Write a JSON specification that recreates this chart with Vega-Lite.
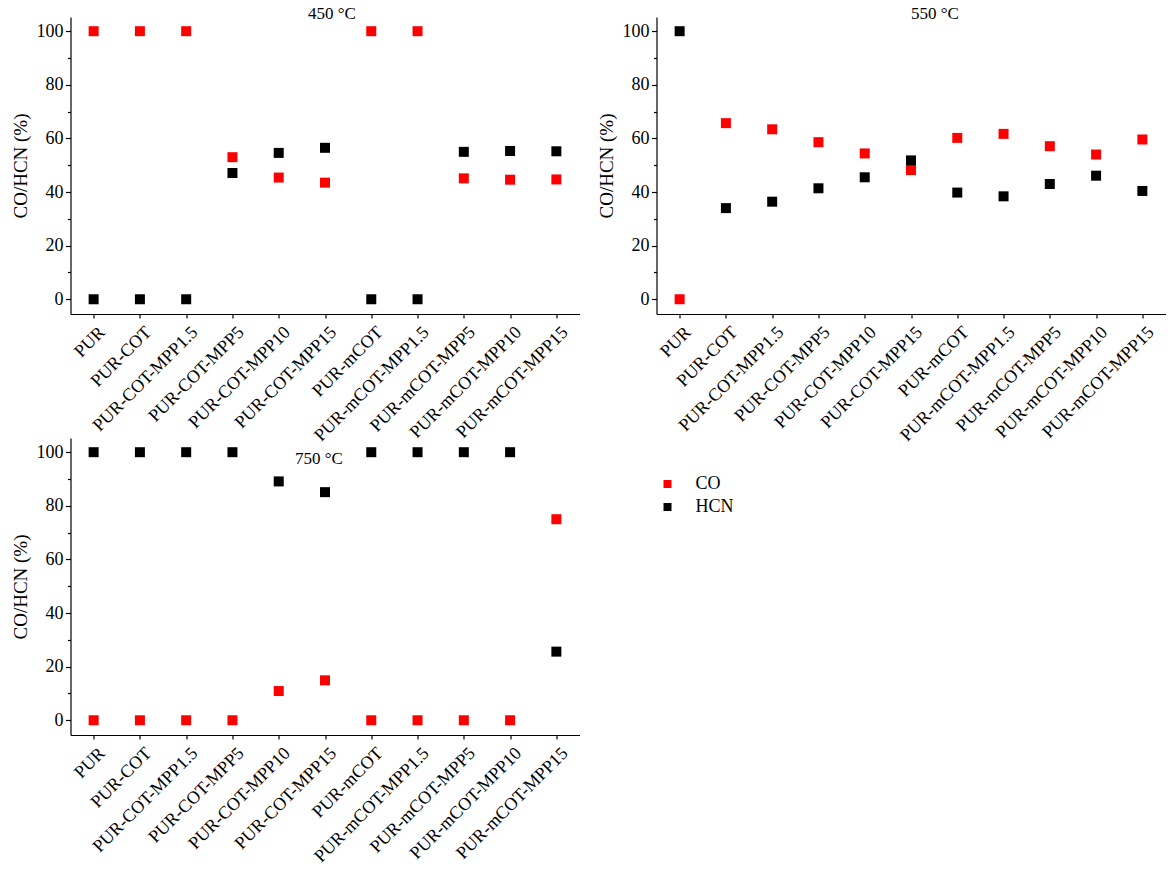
{
  "$schema": "https://vega.github.io/schema/vega-lite/v6.json",
  "background": "#ffffff",
  "padding": {"left": 10.5, "top": 5, "right": 5, "bottom": 5},
  "config": {
    "font": "Liberation Serif",
    "view": {"stroke": null},
    "axis": {
      "grid": false,
      "domainColor": "#000000",
      "domainWidth": 1.2,
      "tickColor": "#000000",
      "tickWidth": 1.2,
      "labelColor": "#000000",
      "labelFont": "Liberation Serif",
      "titleFont": "Liberation Serif",
      "titleFontSize": 19,
      "titleFontWeight": "normal",
      "titleColor": "#000000"
    },
    "axisX": {"labelFontSize": 18, "labelAngle": -45, "tickSize": 4, "labelPadding": 5, "labelOffset": 2},
    "axisY": {"labelFontSize": 18, "labelPadding": 2.5, "titlePadding": 6},
    "title": {"font": "Liberation Serif", "fontSize": 17, "fontWeight": "normal", "color": "#000000"},
    "legend": {
      "orient": "none",
      "legendX": 588,
      "legendY": 458,
      "labelFont": "Liberation Serif",
      "labelFontSize": 18,
      "labelColor": "#000000",
      "symbolSize": 64,
      "symbolStrokeWidth": 0,
      "rowPadding": 5,
      "labelOffset": 19
    }
  },
  "data": {
    "values": [
      {"temp": "450", "sample": "PUR", "gas": "CO", "value": 100},
      {"temp": "450", "sample": "PUR-COT", "gas": "CO", "value": 100},
      {"temp": "450", "sample": "PUR-COT-MPP1.5", "gas": "CO", "value": 100},
      {"temp": "450", "sample": "PUR-COT-MPP5", "gas": "CO", "value": 53.0},
      {"temp": "450", "sample": "PUR-COT-MPP10", "gas": "CO", "value": 45.4},
      {"temp": "450", "sample": "PUR-COT-MPP15", "gas": "CO", "value": 43.5},
      {"temp": "450", "sample": "PUR-mCOT", "gas": "CO", "value": 100},
      {"temp": "450", "sample": "PUR-mCOT-MPP1.5", "gas": "CO", "value": 100},
      {"temp": "450", "sample": "PUR-mCOT-MPP5", "gas": "CO", "value": 45.1},
      {"temp": "450", "sample": "PUR-mCOT-MPP10", "gas": "CO", "value": 44.6},
      {"temp": "450", "sample": "PUR-mCOT-MPP15", "gas": "CO", "value": 44.7},
      {"temp": "450", "sample": "PUR", "gas": "HCN", "value": 0},
      {"temp": "450", "sample": "PUR-COT", "gas": "HCN", "value": 0},
      {"temp": "450", "sample": "PUR-COT-MPP1.5", "gas": "HCN", "value": 0},
      {"temp": "450", "sample": "PUR-COT-MPP5", "gas": "HCN", "value": 47.1},
      {"temp": "450", "sample": "PUR-COT-MPP10", "gas": "HCN", "value": 54.6},
      {"temp": "450", "sample": "PUR-COT-MPP15", "gas": "HCN", "value": 56.5},
      {"temp": "450", "sample": "PUR-mCOT", "gas": "HCN", "value": 0},
      {"temp": "450", "sample": "PUR-mCOT-MPP1.5", "gas": "HCN", "value": 0},
      {"temp": "450", "sample": "PUR-mCOT-MPP5", "gas": "HCN", "value": 55.0},
      {"temp": "450", "sample": "PUR-mCOT-MPP10", "gas": "HCN", "value": 55.3},
      {"temp": "450", "sample": "PUR-mCOT-MPP15", "gas": "HCN", "value": 55.2},
      {"temp": "550", "sample": "PUR", "gas": "CO", "value": 0},
      {"temp": "550", "sample": "PUR-COT", "gas": "CO", "value": 65.7},
      {"temp": "550", "sample": "PUR-COT-MPP1.5", "gas": "CO", "value": 63.4},
      {"temp": "550", "sample": "PUR-COT-MPP5", "gas": "CO", "value": 58.6},
      {"temp": "550", "sample": "PUR-COT-MPP10", "gas": "CO", "value": 54.4},
      {"temp": "550", "sample": "PUR-COT-MPP15", "gas": "CO", "value": 48.2},
      {"temp": "550", "sample": "PUR-mCOT", "gas": "CO", "value": 60.2},
      {"temp": "550", "sample": "PUR-mCOT-MPP1.5", "gas": "CO", "value": 61.7},
      {"temp": "550", "sample": "PUR-mCOT-MPP5", "gas": "CO", "value": 57.1},
      {"temp": "550", "sample": "PUR-mCOT-MPP10", "gas": "CO", "value": 54.0},
      {"temp": "550", "sample": "PUR-mCOT-MPP15", "gas": "CO", "value": 59.6},
      {"temp": "550", "sample": "PUR", "gas": "HCN", "value": 100},
      {"temp": "550", "sample": "PUR-COT", "gas": "HCN", "value": 34.0},
      {"temp": "550", "sample": "PUR-COT-MPP1.5", "gas": "HCN", "value": 36.4},
      {"temp": "550", "sample": "PUR-COT-MPP5", "gas": "HCN", "value": 41.4},
      {"temp": "550", "sample": "PUR-COT-MPP10", "gas": "HCN", "value": 45.5},
      {"temp": "550", "sample": "PUR-COT-MPP15", "gas": "HCN", "value": 51.8},
      {"temp": "550", "sample": "PUR-mCOT", "gas": "HCN", "value": 39.8},
      {"temp": "550", "sample": "PUR-mCOT-MPP1.5", "gas": "HCN", "value": 38.4},
      {"temp": "550", "sample": "PUR-mCOT-MPP5", "gas": "HCN", "value": 43.0},
      {"temp": "550", "sample": "PUR-mCOT-MPP10", "gas": "HCN", "value": 46.1},
      {"temp": "550", "sample": "PUR-mCOT-MPP15", "gas": "HCN", "value": 40.4},
      {"temp": "750", "sample": "PUR", "gas": "CO", "value": 0},
      {"temp": "750", "sample": "PUR-COT", "gas": "CO", "value": 0},
      {"temp": "750", "sample": "PUR-COT-MPP1.5", "gas": "CO", "value": 0},
      {"temp": "750", "sample": "PUR-COT-MPP5", "gas": "CO", "value": 0},
      {"temp": "750", "sample": "PUR-COT-MPP10", "gas": "CO", "value": 10.9},
      {"temp": "750", "sample": "PUR-COT-MPP15", "gas": "CO", "value": 14.9},
      {"temp": "750", "sample": "PUR-mCOT", "gas": "CO", "value": 0},
      {"temp": "750", "sample": "PUR-mCOT-MPP1.5", "gas": "CO", "value": 0},
      {"temp": "750", "sample": "PUR-mCOT-MPP5", "gas": "CO", "value": 0},
      {"temp": "750", "sample": "PUR-mCOT-MPP10", "gas": "CO", "value": 0},
      {"temp": "750", "sample": "PUR-mCOT-MPP15", "gas": "CO", "value": 75.0},
      {"temp": "750", "sample": "PUR", "gas": "HCN", "value": 100},
      {"temp": "750", "sample": "PUR-COT", "gas": "HCN", "value": 100},
      {"temp": "750", "sample": "PUR-COT-MPP1.5", "gas": "HCN", "value": 100},
      {"temp": "750", "sample": "PUR-COT-MPP5", "gas": "HCN", "value": 100},
      {"temp": "750", "sample": "PUR-COT-MPP10", "gas": "HCN", "value": 89.1},
      {"temp": "750", "sample": "PUR-COT-MPP15", "gas": "HCN", "value": 85.1},
      {"temp": "750", "sample": "PUR-mCOT", "gas": "HCN", "value": 100},
      {"temp": "750", "sample": "PUR-mCOT-MPP1.5", "gas": "HCN", "value": 100},
      {"temp": "750", "sample": "PUR-mCOT-MPP5", "gas": "HCN", "value": 100},
      {"temp": "750", "sample": "PUR-mCOT-MPP10", "gas": "HCN", "value": 100},
      {"temp": "750", "sample": "PUR-mCOT-MPP15", "gas": "HCN", "value": 25.6}
    ]
  },
  "bounds": "flush",
  "columns": 2,
  "spacing": {"row": 124, "column": 77},
  "concat": [
    {
      "transform": [{"filter": "datum.temp === '450'"}],
      "title": {"text": "450 °C", "anchor": "middle", "offset": -6, "dx": 7},
      "width": 509,
      "height": 297,
      "mark": {"type": "point", "shape": "square", "filled": true, "size": 100, "opacity": 1},
      "encoding": {
        "x": {"field": "sample", "type": "nominal", "sort": null, "scale": {"type": "point", "padding": 0.5},
              "axis": {"title": null}},
        "y": {"field": "value", "type": "quantitative", "scale": {"domain": [-5.5, 105.3], "nice": false, "zero": false},
              "axis": {"title": "CO/HCN (%)", "values": [0, 10, 20, 30, 40, 50, 60, 70, 80, 90, 100],
                       "labelExpr": "datum.value % 20 === 0 ? datum.label : ''",
                       "tickSize": {"condition": {"test": "datum.value % 20 === 0", "value": 5}, "value": 3}}},
        "color": {"field": "gas", "type": "nominal", "scale": {"domain": ["CO", "HCN"], "range": ["#ff0000", "#000000"]}, "legend": {"title": null}}
      }
    },
    {
      "transform": [{"filter": "datum.temp === '550'"}],
      "title": {"text": "550 °C", "anchor": "middle", "offset": -6, "dx": 24},
      "width": 509,
      "height": 297,
      "mark": {"type": "point", "shape": "square", "filled": true, "size": 100, "opacity": 1},
      "encoding": {
        "x": {"field": "sample", "type": "nominal", "sort": null, "scale": {"type": "point", "padding": 0.5},
              "axis": {"title": null}},
        "y": {"field": "value", "type": "quantitative", "scale": {"domain": [-5.5, 105.3], "nice": false, "zero": false},
              "axis": {"title": "CO/HCN (%)", "values": [0, 10, 20, 30, 40, 50, 60, 70, 80, 90, 100],
                       "labelExpr": "datum.value % 20 === 0 ? datum.label : ''",
                       "tickSize": {"condition": {"test": "datum.value % 20 === 0", "value": 5}, "value": 3}}},
        "color": {"field": "gas", "type": "nominal", "scale": {"domain": ["CO", "HCN"], "range": ["#ff0000", "#000000"]}, "legend": {"title": null}}
      }
    },
    {
      "transform": [{"filter": "datum.temp === '750'"}],
      "title": {"text": "750 °C", "anchor": "middle", "offset": -30, "dx": -6},
      "width": 509,
      "height": 297,
      "mark": {"type": "point", "shape": "square", "filled": true, "size": 100, "opacity": 1},
      "encoding": {
        "x": {"field": "sample", "type": "nominal", "sort": null, "scale": {"type": "point", "padding": 0.5},
              "axis": {"title": null}},
        "y": {"field": "value", "type": "quantitative", "scale": {"domain": [-5.5, 105.3], "nice": false, "zero": false},
              "axis": {"title": "CO/HCN (%)", "values": [0, 10, 20, 30, 40, 50, 60, 70, 80, 90, 100],
                       "labelExpr": "datum.value % 20 === 0 ? datum.label : ''",
                       "tickSize": {"condition": {"test": "datum.value % 20 === 0", "value": 5}, "value": 3}}},
        "color": {"field": "gas", "type": "nominal", "scale": {"domain": ["CO", "HCN"], "range": ["#ff0000", "#000000"]}, "legend": {"title": null}}
      }
    }
  ]
}
